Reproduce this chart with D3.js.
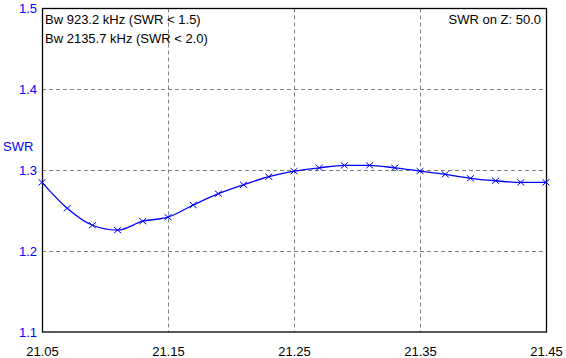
<!DOCTYPE html>
<html>
<head>
<meta charset="utf-8">
<script src="https://cdn.jsdelivr.net/npm/d3@7"></script>
<style>
  body { margin: 0; background: #fff; }
  svg { display: block; font-family: "Liberation Sans", Arial, sans-serif; }
</style>
</head>
<body>
<svg id="chart" width="566" height="358"></svg>
<script>
var freq = [21.05, 21.07, 21.09, 21.11, 21.13, 21.15, 21.17, 21.19, 21.21, 21.23, 21.25,
            21.27, 21.29, 21.31, 21.33, 21.35, 21.37, 21.39, 21.41, 21.43, 21.45];
var swr = [1.285, 1.253, 1.232, 1.226, 1.237, 1.242, 1.257, 1.271, 1.282, 1.292, 1.299,
           1.303, 1.306, 1.306, 1.303, 1.299, 1.295, 1.290, 1.287, 1.285, 1.285];
var xTicks = [21.05, 21.15, 21.25, 21.35, 21.45];
var yTicks = [1.1, 1.2, 1.3, 1.4, 1.5];
var infoLines = ["Bw 923.2 kHz (SWR < 1.5)", "Bw 2135.7 kHz (SWR < 2.0)"];
var zText = "SWR on Z: 50.0";

const pLeft = 42, pRight = 546, pTop = 8.5, pBottom = 332;

const svg = d3.select("#chart");

const x = d3.scaleLinear().domain([21.05, 21.45]).range([pLeft, pRight]);
const y = d3.scaleLinear().domain([1.1, 1.5]).range([pBottom, pTop]);

// grid
svg.append("g")
  .selectAll("line")
  .data(xTicks.slice(1, -1))
  .enter()
  .append("line")
  .attr("x1", d => Math.round(x(d)) + 0.5)
  .attr("x2", d => Math.round(x(d)) + 0.5)
  .attr("y1", pTop)
  .attr("y2", pBottom)
  .attr("stroke", "#808080")
  .attr("stroke-dasharray", "4,3");

svg.append("g")
  .selectAll("line")
  .data(yTicks.slice(1, -1))
  .enter()
  .append("line")
  .attr("x1", pLeft)
  .attr("x2", pRight)
  .attr("y1", d => Math.round(y(d)) + 0.5)
  .attr("y2", d => Math.round(y(d)) + 0.5)
  .attr("stroke", "#808080")
  .attr("stroke-dasharray", "4,3");

// frame
svg.append("rect")
  .attr("x", pLeft + 0.5)
  .attr("y", pTop)
  .attr("width", pRight - pLeft)
  .attr("height", pBottom - pTop)
  .attr("fill", "none")
  .attr("stroke", "#000")
  .attr("stroke-width", 1.3);

// axes (labels only)
const xAxis = svg.append("g")
  .attr("transform", `translate(0,${pBottom})`)
  .call(d3.axisBottom(x).tickValues(xTicks).tickSize(0).tickPadding(15).tickFormat(d3.format(".2f")));
xAxis.select(".domain").remove();
xAxis.selectAll("text").attr("fill", "#000").style("font-size", "13px");

const yAxis = svg.append("g")
  .attr("transform", `translate(${pLeft},0)`)
  .call(d3.axisLeft(y).tickValues(yTicks).tickSize(0).tickPadding(5).tickFormat(d3.format(".1f")));
yAxis.select(".domain").remove();
yAxis.selectAll("text").attr("fill", "#0000ff").style("font-size", "13px");

svg.append("text")
  .attr("x", 3)
  .attr("y", 151)
  .attr("fill", "#0000ff")
  .style("font-size", "13px")
  .text("SWR");

// curve
const pts = freq.map((f, i) => [f, swr[i]]);
svg.append("path")
  .datum(pts)
  .attr("fill", "none")
  .attr("stroke", "#0000ff")
  .attr("stroke-width", 1.3)
  .attr("d", d3.line().x(d => x(d[0])).y(d => y(d[1])).curve(d3.curveMonotoneX));

// x markers
svg.append("g")
  .selectAll("path")
  .data(pts)
  .enter()
  .append("path")
  .attr("d", d => {
    const px = x(d[0]), py = y(d[1]);
    return `M${px - 3.5},${py - 3}L${px + 3.5},${py + 3}M${px - 3.5},${py + 3}L${px + 3.5},${py - 3}`;
  })
  .attr("stroke", "#0000ff")
  .attr("stroke-width", 1);

// info text
svg.append("g")
  .selectAll("text")
  .data(infoLines)
  .enter()
  .append("text")
  .attr("x", 45)
  .attr("y", (d, i) => 24 + i * 19)
  .style("font-size", "13px")
  .attr("fill", "#000")
  .text(d => d);

svg.append("text")
  .attr("x", 541)
  .attr("y", 24)
  .attr("text-anchor", "end")
  .style("font-size", "13px")
  .attr("fill", "#000")
  .text(zText);
</script>
</body>
</html>
